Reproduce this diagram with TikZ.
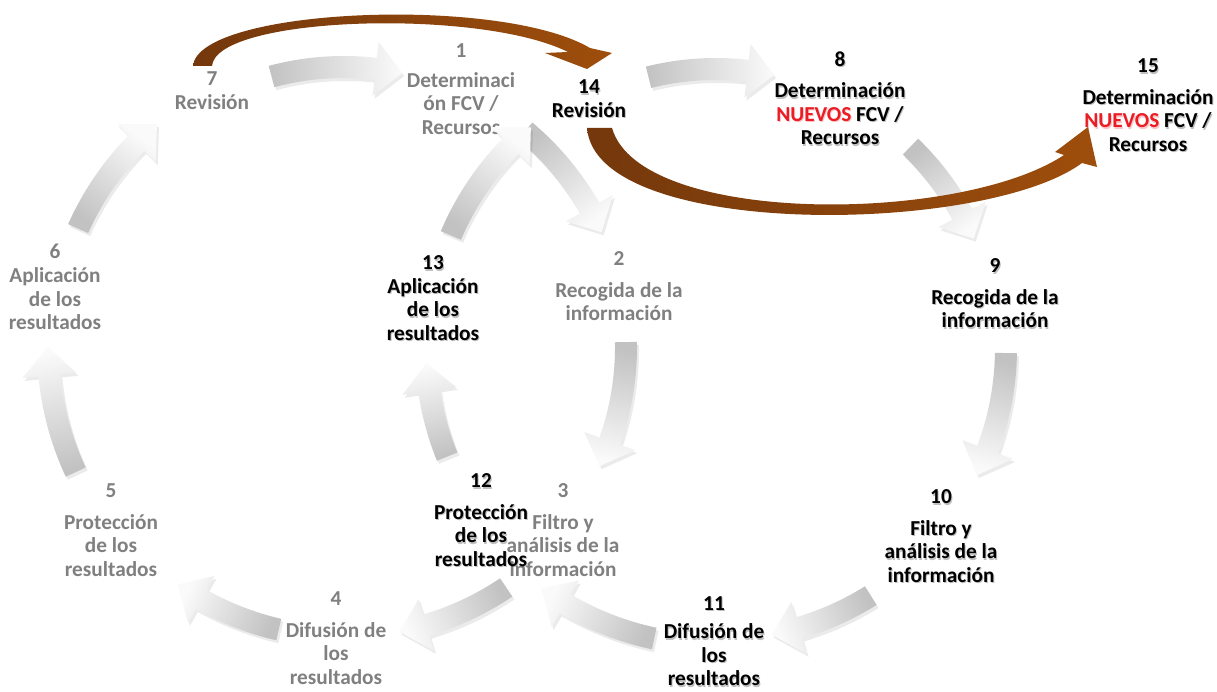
\documentclass[tikz,border=0pt]{standalone}
\usepackage{fontspec}
\setmainfont{Carlito}
\usetikzlibrary{calc}

\definecolor{txtgray}{RGB}{128,128,128}
\definecolor{nred}{RGB}{235,28,36}
\definecolor{brdark}{RGB}{116,56,12}
\definecolor{brlight}{RGB}{158,78,12}
\definecolor{arrowtail}{RGB}{194,194,194}
\definecolor{arrowhead}{RGB}{250,250,250}

% outline of a curved block arrow around centre #1
\newcommand\cyarrowpath[1]{($(#1)+(\cyA:\cyRo)$) arc[start angle=\cyA, end angle=\cyB, radius=\cyRo]
  -- ($(#1)+(\cyB:\cyHo)$) -- ($(#1)+(\cyT:\cyR)$) -- ($(#1)+(\cyB:\cyHi)$)
  -- ($(#1)+(\cyB:\cyRi)$) arc[start angle=\cyB, end angle=\cyA, radius=\cyRi] -- cycle}

% curved block arrow: centre, radius, tail angle, tip angle
\newcommand\cyarrow[4]{%
  \pgfmathsetmacro\cyA{#3}%
  \pgfmathsetmacro\cyT{#4}%
  \pgfmathsetmacro\cyR{#2}%
  \pgfmathsetmacro\cyB{#4-5.5}%
  \pgfmathsetmacro\cyPhi{180-(#3+#4)/2}%
  \pgfmathsetmacro\cyRo{#2+11}%
  \pgfmathsetmacro\cyRi{#2-11}%
  \pgfmathsetmacro\cyHo{#2+27}%
  \pgfmathsetmacro\cyHi{#2-27}%
  \coordinate (cyS) at ($(#1)+(2,3)$);
  \fill[black,opacity=.08] \cyarrowpath{cyS};
  \shade[bottom color=arrowtail, top color=arrowhead, shading angle=\cyPhi] \cyarrowpath{#1};
}

% dark label with a soft shadow: name, position, text
\newcommand\darklabel[3]{%
  \node[blbl, text=black, opacity=.25] (#1s) at ($(#2)+(1,1.5)$) {#3};
  \node[blbl] (#1) at (#2) {#3};
}

\tikzset{
  lbl/.style={align=center, inner sep=0pt, anchor=north,
    font=\fontsize{21.3}{23.5}\selectfont\bfseries},
  glbl/.style={lbl, text=txtgray},
  blbl/.style={lbl, text=black},
  brownarrow/.style={left color=brdark, right color=brlight}
}

\begin{document}
\begin{tikzpicture}[x=1pt,y=-1pt]
\useasboundingbox (0,0) rectangle (1217,692);
\fill[white] (0,0) rectangle (1217,692);

% centres of the two cycles
\coordinate (c1) at (344,347);
\coordinate (c2) at (716,348);

% first cycle labels
\node[glbl] (n1) at (461,43.5) {1\\[6pt]Determinaci\\ón FCV /\\Recursos};
\node[glbl] (n2) at (619,251.5) {2\\[8pt]Recogida de la\\información};
\node[glbl] (n3) at (563,483.5) {3\\[8pt]Filtro y\\análisis de la\\información};
\node[glbl] (n4) at (336,591.5) {4\\[8pt]Difusión de\\los\\resultados};
\node[glbl] (n5) at (111,483.5) {5\\[8pt]Protección\\de los\\resultados};
\node[glbl] (n6) at (55,243.5) {6\\[1pt]Aplicación\\de los\\resultados};
\node[glbl] (n7) at (212,71.5) {7\\[0pt]Revisión};

% first cycle arrows
\cyarrow{c1}{280}{-105}{-78}
\cyarrow{c1}{282}{-50}{-24}
\cyarrow{c1}{282}{-1}{25}
\cyarrow{c1}{290}{56}{79}
\cyarrow{c1}{290}{103}{125}
\cyarrow{c1}{296}{155}{180}
\cyarrow{c1}{291}{204}{230}

% second cycle arrows
\cyarrow{c2}{279}{-104}{-78}
\cyarrow{c2}{280}{-46}{-23}
\cyarrow{c2}{290}{1}{26}
\cyarrow{c2}{292}{58}{79}
\cyarrow{c2}{297}{102}{126}
\cyarrow{c2}{290}{158}{177}
\cyarrow{c2}{288}{203}{230}

% review jumps
\shade[brownarrow] (193,66) .. controls (198,8) and (500,-5) .. (590,48)
  -- (612,53) -- (587,69) -- (545,53) -- (568,52)
  .. controls (480,8) and (216,16) .. (212,66) -- cycle;
\shade[brownarrow] (587,128) .. controls (596,240) and (985,235) .. (1082,163)
  -- (1097,167) -- (1088,127) -- (1055,152) -- (1064,155)
  .. controls (960,224) and (640,226) .. (612,128) -- cycle;

% second cycle labels
\coordinate (p8) at (840,51.5);
\coordinate (p9) at (995,258.5);
\coordinate (p10) at (941,489.5);
\coordinate (p11) at (714,596);
\coordinate (p12) at (481,473.5);
\coordinate (p13) at (433,255.5);
\coordinate (p14) at (589,79.5);
\coordinate (p15) at (1148,58.5);
\darklabel{n8}{p8}{8\\[8pt]Determinación\\\textcolor{nred}{NUEVOS} FCV /\\Recursos}
\darklabel{n9}{p9}{9\\[8pt]Recogida de la\\información}
\darklabel{n10}{p10}{10\\[8pt]Filtro y\\análisis de la\\información}
\darklabel{n11}{p11}{11\\[5pt]Difusión de\\los\\resultados}
\darklabel{n12}{p12}{12\\[8pt]Protección\\de los\\resultados}
\darklabel{n13}{p13}{13\\Aplicación\\de los\\resultados}
\darklabel{n14}{p14}{14\\Revisión}
\darklabel{n15}{p15}{15\\[8pt]Determinación\\\textcolor{nred}{NUEVOS} FCV /\\Recursos}
\end{tikzpicture}
\end{document}
